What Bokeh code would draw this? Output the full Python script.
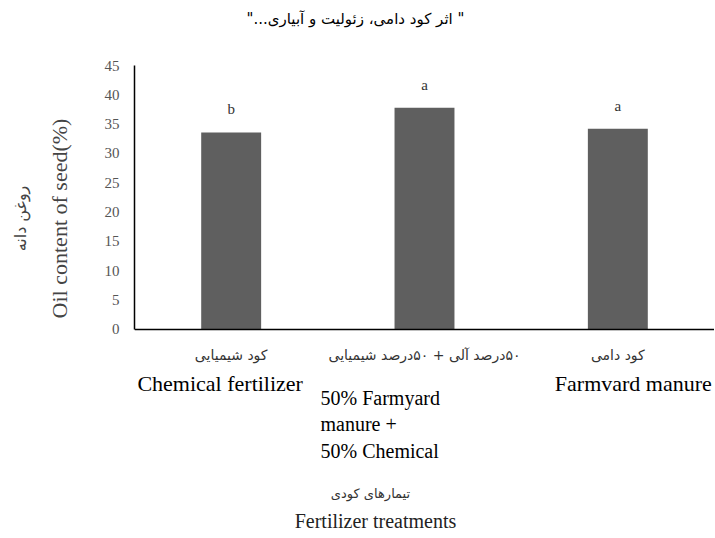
from bokeh.plotting import figure
from bokeh.layouts import column
from bokeh.models import Range1d, FactorRange, FixedTicker, Span, LinearAxis, ColumnDataSource
from bokeh.core.properties import value
from bokeh.embed import file_html
from bokeh.resources import INLINE

# ---- data ----
title_text = '" اثر کود دامی، زئولیت و آبیاری..."'
categories = ["Chemical fertilizer", "50% Farmyard manure + 50% Chemical", "Farmyard manure"]
oil_content = [33.6, 37.8, 34.2]
letters = ["b", "a", "a"]
persian_labels = ["کود شیمیایی", "۵۰درصد آلی + ۵۰درصد شیمیایی", "کود دامی"]
english_labels = ["Chemical fertilizer", "50% Farmyard\nmanure +\n50% Chemical", "Farmvard manure"]
y_ticks = [0, 5, 10, 15, 20, 25, 30, 35, 40, 45]
y_title_en = "Oil content of seed(%)"
y_title_fa = "روغن دانه"
x_title_en = "Fertilizer treatments"
x_title_fa = "تیمارهای کودی"

SERIF = "Liberation Serif"
ARAB = "DejaVu Sans"


def rtl(s):
    return "\u202b" + s + "\u202c"


src = ColumnDataSource(dict(cat=categories, val=oil_content, let=letters,
                            fa=[rtl(s) for s in persian_labels],
                            base=[0] * len(categories)))

# ---------------- upper figure: the chart ----------------
p = figure(width=714, height=436, output_backend="svg", toolbar_location=None,
           x_range=FactorRange(*categories), y_range=Range1d(-18.24, 56.08),
           x_axis_location=None, min_border_left=134, min_border_right=0,
           min_border_top=0, min_border_bottom=0)
p.outline_line_color = None
p.xgrid.visible = False
p.ygrid.visible = False

p.vbar(x="cat", top="val", width=0.31, source=src, fill_color="#5f5f5f", line_color=None)

ax = p.yaxis[0]
ax.ticker = FixedTicker(ticks=y_ticks)
ax.bounds = (0, 45)
ax.axis_line_color = "black"
ax.axis_line_width = 1.5
ax.major_tick_out = 0
ax.major_tick_in = 0
ax.minor_tick_out = 0
ax.minor_tick_in = 0
ax.major_label_standoff = 15
ax.major_label_text_font = SERIF
ax.major_label_text_font_size = "15px"
ax.major_label_text_color = "#555555"


def title_axis(text, standoff, font, size, color):
    a = LinearAxis(ticker=FixedTicker(ticks=[]), axis_line_color=None,
                   major_tick_out=0, major_tick_in=0, minor_tick_out=0, minor_tick_in=0,
                   major_label_text_font_size="0px",
                   axis_label=text, axis_label_standoff=standoff,
                   axis_label_text_font=font, axis_label_text_font_size=size,
                   axis_label_text_font_style="normal", axis_label_text_color=color)
    p.add_layout(a, "left")


title_axis(y_title_en, 30, SERIF, "22px", "#444444")
title_axis(rtl(y_title_fa), 14, ARAB, "16px", "#444444")

# x axis line at zero
p.add_layout(Span(location=0, dimension="width", line_color="black", line_width=1.5))

# chart title
p.text(x=[categories[1]], y=[y_ticks[-1]], text=[rtl(title_text)], x_offset=-69, y_offset=-47,
       text_align="center", text_baseline="middle",
       text_font=value(ARAB), text_font_size="15px", text_color="black")

# significance letters
p.text(x="cat", y="val", text="let", source=src, y_offset=-23,
       text_align="center", text_baseline="middle",
       text_font=value(SERIF), text_font_size="15px", text_color="#333333")

# persian category labels
p.text(x="cat", y="base", text="fa", source=src, y_offset=26,
       text_align="center", text_baseline="middle",
       text_font=value(ARAB), text_font_size="14px", text_color="#333333")

# english category labels
p.text(x=[categories[0]], y=[0], text=[english_labels[0]], x_offset=-11, y_offset=54,
       text_align="center", text_baseline="middle",
       text_font=value(SERIF), text_font_size="22px", text_color="black")
p.text(x=[categories[2]], y=[0], text=[english_labels[2]], x_offset=94, y_offset=54,
       text_align="right", text_baseline="middle",
       text_font=value(SERIF), text_font_size="22px", text_color="black")
mid_lines = english_labels[1].split("\n")
for i, line in enumerate(mid_lines[:2]):
    p.text(x=[categories[1]], y=[0], text=[line], x_offset=-104, y_offset=69 + 26 * i,
           text_align="left", text_baseline="middle",
           text_font=value(SERIF), text_font_size="20px", text_color="black")

# ---------------- lower figure: remaining texts ----------------
q = figure(width=714, height=101, output_backend="svg", toolbar_location=None,
           x_range=p.x_range, y_range=Range1d(-101, 0),
           x_axis_location=None, y_axis_location=None,
           min_border_left=134, min_border_right=0, min_border_top=0, min_border_bottom=0)
q.outline_line_color = None
q.xgrid.visible = False
q.ygrid.visible = False

q.text(x=[categories[1]], y=[0], text=[mid_lines[2]], x_offset=-104, y_offset=14,
       text_align="left", text_baseline="middle",
       text_font=value(SERIF), text_font_size="20px", text_color="black")
q.text(x=[categories[1]], y=[0], text=[rtl(x_title_fa)], x_offset=-54, y_offset=57,
       text_align="center", text_baseline="middle",
       text_font=value(ARAB), text_font_size="13px", text_color="#333333")
q.text(x=[categories[1]], y=[0], text=[x_title_en], x_offset=-49, y_offset=84,
       text_align="center", text_baseline="middle",
       text_font=value(SERIF), text_font_size="20px", text_color="#222222")

layout = column(p, q, spacing=0)
open("out.html", "w").write(file_html(layout, INLINE))
